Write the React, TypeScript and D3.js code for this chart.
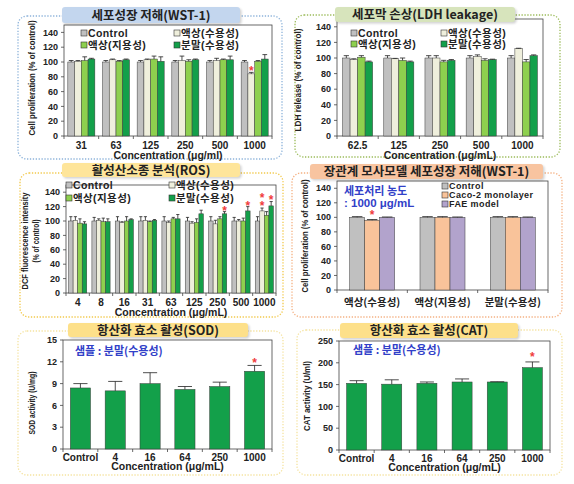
import React from 'react';
import * as d3 from 'd3';

// ---------- DATA ----------
const legendNames = ['Control', '액상(수용성)', '액상(지용성)', '분말(수용성)'];

// WST-1 (cell growth inhibition)
const wstCategories = ['31', '63', '125', '250', '500', '1000'];
const wstControl = [100, 100, 100, 100, 100, 100];
const wstControlErr = [2, 2, 2, 2, 2, 2];
const wstLiquidWater = [101, 103, 103, 102, 102, 84];
const wstLiquidWaterErr = [1, 1, 1, 6, 3, 2];
const wstLiquidOil = [102, 101, 104, 101, 103, 101];
const wstLiquidOilErr = [5, 1, 4, 2, 1, 1];
const wstPowder = [104, 103, 101, 103, 103, 104];
const wstPowderErr = [1, 1, 6, 1, 5, 6];

// LDH leakage
const ldhCategories = ['62.5', '125', '250', '500', '1000'];
const ldhControl = [100, 100, 100, 100, 100];
const ldhControlErr = [3, 3, 3, 3, 3];
const ldhLiquidWater = [98, 99, 100, 102, 112];
const ldhLiquidWaterErr = [1, 0.5, 3, 2, 0.5];
const ldhLiquidOil = [101, 97, 95, 97, 95];
const ldhLiquidOilErr = [2, 3, 2, 2, 3];
const ldhPowder = [95, 95, 97, 98, 103];
const ldhPowderErr = [1, 1, 1, 0.5, 1];

// ROS
const rosCategories = ['4', '8', '16', '31', '63', '125', '250', '500', '1000'];
const rosControl = [100, 100, 100, 100, 100, 100, 100, 100, 100];
const rosControlErr = [6, 5, 6, 6, 6, 5, 6, 5, 6];
const rosLiquidWater = [101, 101, 98, 101, 98, 97, 96, 100, 114];
const rosLiquidWaterErr = [5, 2, 1, 5, 2, 2, 5, 2, 4];
const rosLiquidOil = [97, 99, 100, 99, 103, 98, 103, 100, 108];
const rosLiquidOilErr = [6, 5, 6, 1, 2, 5, 3, 4, 5];
const rosPowder = [96, 99, 102, 101, 103, 110, 110, 114, 121];
const rosPowderErr = [3, 4, 1, 1, 6, 5, 3, 6, 6];

// Gut model WST-1
const gutCategories = ['액상(수용성)', '액상(지용성)', '분말(수용성)'];
const gutLegend = ['Control', 'Caco-2 monolayer', 'FAE model'];
const gutControl = [100, 100, 100];
const gutControlErr = [1, 1, 1];
const gutCaco = [96, 100, 100];
const gutCacoErr = [1, 1, 1];
const gutFae = [100, 100, 100];
const gutFaeErr = [0.5, 0.5, 0.5];

// Antioxidant enzymes
const enzymeCategories = ['Control', '4', '16', '64', '250', '1000'];
const sodValues = [8.4, 8.0, 9.0, 8.2, 8.6, 10.7];
const sodErr = [0.6, 1.3, 1.5, 0.4, 0.6, 0.8];
const catValues = [153, 151, 153, 156, 156, 189];
const catErr = [6, 10, 3, 7, 0.5, 13];

// significance markers: [category index, series index, value at star]
const wstStars = [[5, 1, 91]];
const rosStars = [[6, 3, 118], [7, 3, 125], [8, 1, 136], [8, 1, 125], [8, 3, 133]];
const gutStars = [[0, 1, 106]];
const sodStars = [[5, 0, 12.2]];
const catStars = [[5, 0, 218]];

// ---------- STYLE ----------
const C_GRAY = '#c0c0c0';
const C_CREAM = '#efefdc';
const C_LGREEN = '#8ed04e';
const C_DGREEN = '#13a04a';
const C_PEACH = '#f9c39a';
const C_PURPLE = '#b2a3cc';
const C_BLUE = '#3140c8';
const C_RED = '#f03c3c';
const FONT = "'Liberation Sans', Arial, 'Noto Sans CJK KR', sans-serif";
const KFONT = "'Noto Sans CJK KR', 'Liberation Sans', sans-serif";

type Series = { values: number[]; errs: number[]; fill: string };

type PanelProps = {
  left: number; right: number; top: number; bottom: number;
  yMax: number; yTicks: number[];
  cats: string[]; series: Series[];
  frac: number;
  stars: number[][];
  xLabelY: number; xLabelSize: number; xLabelFont?: string;
  xTitle?: string; xTitleY?: number;
  yTitle: string[]; yTitleX: number[]; yTitleY: number; yTitleLen: number[];
};

function BarPanel(p: PanelProps) {
  const x0 = d3.scaleBand<string>().domain(p.cats).range([p.left, p.right]).paddingInner(0).paddingOuter(0);
  const step = x0.bandwidth();
  const gw = step * p.frac;
  const x1 = d3.scaleBand<number>().domain(p.series.map((_, i) => i)).range([0, gw]).padding(0);
  const bw = x1.bandwidth();
  const off = (step - gw) / 2;
  const y = d3.scaleLinear().domain([0, p.yMax]).range([p.bottom, p.top]);
  const bx = (ci: number, si: number) => (x0(p.cats[ci]) as number) + off + (x1(si) as number);
  return (
    <g>
      <rect x={p.left} y={p.top} width={p.right - p.left} height={p.bottom - p.top} fill="white" stroke="#444" strokeWidth={0.8} />
      {p.series.map((s, si) =>
        s.values.map((v, ci) => {
          const x = bx(ci, si);
          const yt = y(v);
          const ye = y(v + s.errs[ci]);
          const cx = x + bw / 2;
          const cap = Math.max(3, bw * 0.7);
          return (
            <g key={`${si}-${ci}`}>
              <rect x={x} y={yt} width={bw} height={p.bottom - yt} fill={s.fill} stroke="#3a3a3a" strokeWidth={0.5} />
              <line x1={cx} x2={cx} y1={yt} y2={ye} stroke="#222" strokeWidth={0.8} />
              <line x1={cx - cap / 2} x2={cx + cap / 2} y1={ye} y2={ye} stroke="#222" strokeWidth={0.8} />
            </g>
          );
        })
      )}
      {p.stars.map(([ci, si, v], k) => (
        <text key={k} x={bx(ci, si) + bw / 2} y={y(v) + 6.5} textAnchor="middle" fontSize={12} fontWeight="bold" fill={C_RED} fontFamily={FONT}>*</text>
      ))}
      {p.yTicks.map((t) => (
        <g key={t}>
          <line x1={p.left - 3} x2={p.left} y1={y(t)} y2={y(t)} stroke="#444" strokeWidth={0.8} />
          <text x={p.left - 6} y={y(t)} dy="0.35em" textAnchor="end" fontSize={9} fontWeight="bold" fill="#222" fontFamily={FONT}>{t}</text>
        </g>
      ))}
      {d3.range(p.cats.length + 1).map((i) => (
        <line key={i} x1={p.left + i * step} x2={p.left + i * step} y1={p.bottom} y2={p.bottom + 3} stroke="#444" strokeWidth={0.8} />
      ))}
      {p.cats.map((c) => (
        <text key={c} x={(x0(c) as number) + step / 2} y={p.xLabelY} dy="0.35em" textAnchor="middle" fontSize={p.xLabelSize} fontWeight="bold" fill="#222" fontFamily={p.xLabelFont || FONT}>{c}</text>
      ))}
      {p.xTitle && (
        <text x={(p.left + p.right) / 2} y={p.xTitleY} dy="0.35em" textAnchor="middle" fontSize={10.5} fontWeight="bold" fill="#222" fontFamily={FONT}>{p.xTitle}</text>
      )}
      {p.yTitle.map((t, i) => (
        <text key={i} transform={`translate(${p.yTitleX[i]},${p.yTitleY}) rotate(-90)`} dy="0.35em" textAnchor="middle" fontSize={8.5} fontWeight="bold" fill="#222" fontFamily={FONT}
          textLength={p.yTitleLen[i]} lengthAdjust="spacingAndGlyphs">{t}</text>
      ))}
    </g>
  );
}

function Frame(props: { x: number; y: number; w: number; h: number; color: string }) {
  return (
    <rect x={props.x} y={props.y} width={props.w} height={props.h} rx={9} fill="none" stroke={props.color} strokeWidth={1.3} strokeDasharray="1.3 1.6" />
  );
}

function Pill(props: { pill: number[]; fill: string; title: string }) {
  const [px, py, pw, ph] = props.pill;
  return (
    <g>
      <rect x={px + 1.5} y={py + 1.5} width={pw} height={ph} rx={3} fill="rgba(0,0,0,0.18)" filter="url(#blur)" />
      <rect x={px} y={py} width={pw} height={ph} rx={3} fill={props.fill} />
      <text x={px + pw / 2} y={py + ph / 2} dy="0.36em" textAnchor="middle" fontSize={12.5} fontWeight="bold" fill="#222" fontFamily={KFONT}>{props.title}</text>
    </g>
  );
}

function Legend(props: { items: string[]; fills: string[]; pos: number[][]; size: number }) {
  return (
    <g>
      {props.items.map((t, i) => (
        <g key={i}>
          <rect x={props.pos[i][0] - 3} y={props.pos[i][1] - 3} width={6} height={6} fill={props.fills[i]} stroke="#333" strokeWidth={0.6} />
          <text x={props.pos[i][0] + 4} y={props.pos[i][1]} dy="0.36em" fontSize={props.size} fontWeight="bold" fill="#222" fontFamily={FONT} letterSpacing={0.4}>{t}</text>
        </g>
      ))}
    </g>
  );
}

const fourFills = [C_GRAY, C_CREAM, C_LGREEN, C_DGREEN];

export default function App() {
  const wstSeries: Series[] = [
    { values: wstControl, errs: wstControlErr, fill: C_GRAY },
    { values: wstLiquidWater, errs: wstLiquidWaterErr, fill: C_CREAM },
    { values: wstLiquidOil, errs: wstLiquidOilErr, fill: C_LGREEN },
    { values: wstPowder, errs: wstPowderErr, fill: C_DGREEN },
  ];
  const ldhSeries: Series[] = [
    { values: ldhControl, errs: ldhControlErr, fill: C_GRAY },
    { values: ldhLiquidWater, errs: ldhLiquidWaterErr, fill: C_CREAM },
    { values: ldhLiquidOil, errs: ldhLiquidOilErr, fill: C_LGREEN },
    { values: ldhPowder, errs: ldhPowderErr, fill: C_DGREEN },
  ];
  const rosSeries: Series[] = [
    { values: rosControl, errs: rosControlErr, fill: C_GRAY },
    { values: rosLiquidWater, errs: rosLiquidWaterErr, fill: C_CREAM },
    { values: rosLiquidOil, errs: rosLiquidOilErr, fill: C_LGREEN },
    { values: rosPowder, errs: rosPowderErr, fill: C_DGREEN },
  ];
  const gutSeries: Series[] = [
    { values: gutControl, errs: gutControlErr, fill: C_GRAY },
    { values: gutCaco, errs: gutCacoErr, fill: C_PEACH },
    { values: gutFae, errs: gutFaeErr, fill: C_PURPLE },
  ];
  const pctTicks = d3.range(0, 141, 20);
  return (
    <svg width={574} height={484} style={{ position: 'absolute', left: 0, top: 0, background: 'white' }}>
      <defs>
        <filter id="blur" x="-10%" y="-30%" width="120%" height="160%">
          <feGaussianBlur stdDeviation="1" />
        </filter>
      </defs>
      <rect width={574} height={484} fill="white" />

      {/* frames */}
      <Frame x={18} y={16} w={264} h={143} color="#8db3da" />
      <Frame x={295} y={15} w={265} h={142} color="#9bbb59" />
      <Frame x={20} y={173} w={263} h={144} color="#f2c94c" />
      <Frame x={292} y={173} w={270} h={144} color="#f4b183" />
      <Frame x={18} y={331} w={265} h={144} color="#f5e3a0" />
      <Frame x={297} y={330} w={265} h={145} color="#f5e3a0" />

      {/* Top-left: WST-1 */}
      <BarPanel left={64} right={272} top={25} bottom={136} yMax={150} yTicks={pctTicks}
        cats={wstCategories} series={wstSeries} frac={0.78} stars={wstStars}
        xLabelY={145} xLabelSize={10} xTitle="Concentration (μg/ml)" xTitleY={155}
        yTitle={['Cell proliferation (% of control)']} yTitleX={[32]} yTitleY={78} yTitleLen={[115]} />

      {/* Top-right: LDH */}
      <BarPanel left={337} right={543} top={19} bottom={136} yMax={150} yTicks={pctTicks}
        cats={ldhCategories} series={ldhSeries} frac={0.73} stars={[]}
        xLabelY={145} xLabelSize={10} xTitle="Concentration (μg/mL)" xTitleY={155}
        yTitle={['LDH release (% of control)']} yTitleX={[298]} yTitleY={80} yTitleLen={[103]} />

      {/* Middle-left: ROS */}
      <BarPanel left={66} right={276} top={185} bottom={293} yMax={150} yTicks={pctTicks}
        cats={rosCategories} series={rosSeries} frac={0.78} stars={rosStars}
        xLabelY={302} xLabelSize={10} xTitle="Concentration (μg/mL)" xTitleY={312}
        yTitle={['DCF fluorescence intensity', '(% of control)']} yTitleX={[25, 36]} yTitleY={241} yTitleLen={[97, 43]} />

      {/* Middle-right: gut model */}
      <BarPanel left={337} right={548} top={181} bottom={290} yMax={150} yTicks={pctTicks}
        cats={gutCategories} series={gutSeries} frac={0.64} stars={gutStars}
        xLabelY={302} xLabelSize={10.5} xLabelFont={KFONT}
        yTitle={['Cell proliferation (% of control)']} yTitleX={[305]} yTitleY={236} yTitleLen={[113]} />

      {/* Bottom-left: SOD */}
      <BarPanel left={63} right={272} top={340} bottom={449} yMax={15} yTicks={d3.range(0, 16, 3)}
        cats={enzymeCategories} series={[{ values: sodValues, errs: sodErr, fill: C_DGREEN }]} frac={0.58} stars={sodStars}
        xLabelY={457} xLabelSize={10} xTitle="Concentration (μg/mL)" xTitleY={466.5}
        yTitle={['SOD activity (U/mg)']} yTitleX={[32]} yTitleY={403} yTitleLen={[63]} />

      {/* Bottom-right: CAT */}
      <BarPanel left={339} right={550} top={341} bottom={450} yMax={250} yTicks={d3.range(0, 251, 50)}
        cats={enzymeCategories} series={[{ values: catValues, errs: catErr, fill: C_DGREEN }]} frac={0.57} stars={catStars}
        xLabelY={458.5} xLabelSize={10} xTitle="Concentration (μg/mL)" xTitleY={467.5}
        yTitle={['CAT activity (U/ml)']} yTitleX={[307]} yTitleY={396} yTitleLen={[70]} />

      {/* title pills on top */}
      <Pill pill={[62, 7, 178, 16]} fill="#c3d6ee" title="세포성장 저해(WST-1)" />
      <Pill pill={[335, 7, 180, 15]} fill="#d7e4bc" title="세포막 손상(LDH leakage)" />
      <Pill pill={[62, 163, 178, 14]} fill="#fee59a" title="활성산소종 분석(ROS)" />
      <Pill pill={[310, 164, 233, 15]} fill="#f8c4a0" title="장관계 모사모델 세포성장 저해(WST-1)" />
      <Pill pill={[68, 323, 180, 14]} fill="#fde08a" title="항산화 효소 활성(SOD)" />
      <Pill pill={[340, 323, 178, 15]} fill="#fde08a" title="항산화 효소 활성(CAT)" />

      {/* legends and annotations */}
      <Legend items={legendNames} fills={fourFills} pos={[[84, 33], [177, 33], [84, 45], [177, 45]]} size={10.5} />
      <Legend items={legendNames} fills={fourFills} pos={[[354, 33], [444, 33], [354, 44], [444, 44]]} size={10.5} />
      <Legend items={legendNames} fills={fourFills} pos={[[69, 185], [172, 185], [69, 198], [172, 198]]} size={10.5} />
      <Legend items={gutLegend} fills={[C_GRAY, C_PEACH, C_PURPLE]} pos={[[445, 186], [445, 195], [445, 204]]} size={9} />
      <text x={344} y={191} dy="0.36em" fontSize={11} fontWeight="bold" fill={C_BLUE} fontFamily={KFONT}>세포처리 농도</text>
      <text x={344} y={203} dy="0.36em" fontSize={11.5} fontWeight="bold" fill={C_BLUE} fontFamily={FONT}>: 1000 μg/mL</text>
      <text x={75} y={351} dy="0.36em" fontSize={11} fontWeight="bold" fill={C_BLUE} fontFamily={KFONT}>샘플 : 분말(수용성)</text>
      <text x={353} y={350} dy="0.36em" fontSize={11} fontWeight="bold" fill={C_BLUE} fontFamily={KFONT}>샘플 : 분말(수용성)</text>
    </svg>
  );
}
